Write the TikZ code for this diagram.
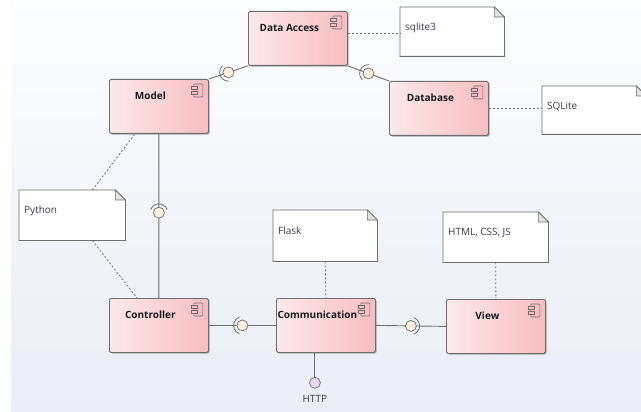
\documentclass[tikz,border=0pt]{standalone}
\usepackage{fontspec}
\setmainfont{Open Sans}
\usetikzlibrary{calc,shadows}
\definecolor{bgtop}{HTML}{FCFDFE}
\definecolor{bgbot}{HTML}{EAEDF6}
\definecolor{compL}{HTML}{FDE9EB}
\definecolor{compR}{HTML}{F7BEC1}
\definecolor{edge}{HTML}{6E6E6E}
\definecolor{ballc}{HTML}{FCF0DC}
\definecolor{httpc}{HTML}{E6D6F2}
\definecolor{txt}{HTML}{1A1A1A}
\definecolor{notetxt}{HTML}{3C3C4C}
\definecolor{foldc}{HTML}{E2E2E2}
\tikzset{
  x=1pt, y=-1pt,
  comp/.style={draw=edge, line width=0.8pt, rounded corners=1.5pt,
    left color=compL, right color=compR, minimum width=99pt, minimum height=54pt,
    inner sep=0pt,
    drop shadow={shadow xshift=1.2pt, shadow yshift=-1.2pt, opacity=0.55, fill=black!60}},
  ctitle/.style={font=\fontsize{10}{12}\selectfont\bfseries, text=txt, inner sep=0pt},
  icon/.style={draw=edge, line width=0.6pt, fill=compR},
  notebg/.style={inner sep=0pt, draw=none},
  noteline/.style={draw=edge, line width=0.8pt, fill=white},
  foldst/.style={draw=edge, line width=0.6pt, fill=foldc},
  notetext/.style={font=\fontsize{10}{12}\selectfont, text=notetxt, inner sep=0pt, anchor=west},
  conn/.style={draw=edge, line width=0.9pt},
  dashlink/.style={draw=edge, line width=0.8pt, dash pattern=on 2pt off 2pt},
  ball/.style={circle, draw=edge, line width=0.7pt, fill=ballc, minimum size=11pt, inner sep=0pt},
  hball/.style={circle, draw=edge, line width=0.7pt, fill=httpc, minimum size=11pt, inner sep=0pt},
  sock/.style={draw=edge, line width=0.8pt},
}
\newcommand\compo[4]{%
  \node[comp, anchor=north west] (#1) at (#2,#3) {};
  \node[ctitle] (#1-t) at ($(#1.north)+(-8.5,17)$) {#4};
  \draw[icon, rounded corners=0.8pt] ($(#1.north east)+(-15,5)$) rectangle ($(#1.north east)+(-6,18)$);
  \draw[icon] ($(#1.north east)+(-18,7.5)$) rectangle ($(#1.north east)+(-12,10.5)$);
  \draw[icon] ($(#1.north east)+(-18,12.5)$) rectangle ($(#1.north east)+(-12,15.5)$);
}
\newcommand\notebox[6]{%
  \node[notebg, minimum width={(#4-#2)*1pt}, minimum height={(#5-#3)*1pt}, anchor=north west] (#1) at (#2,#3) {};
  \draw[noteline] (#1.north west) -- ($(#1.north east)+(-10,0)$) -- ($(#1.north east)+(0,10)$) -- (#1.south east) -- (#1.south west) -- cycle;
  \draw[foldst] ($(#1.north east)+(-10,0)$) -- ($(#1.north east)+(-10,10)$) -- ($(#1.north east)+(0,10)$) -- cycle;
  \node[notetext] (#1-t) at ($(#1.north west)+(5,20.5)$) {#6};
}
\newcommand\socket[2]{%
  \draw[sock] ($(#1)+({#2-70}:8.8)$) arc[start angle={#2-70}, end angle={#2+70}, radius=8.8];
}
\begin{document}
\begin{tikzpicture}
\clip (0,0) rectangle (641,412);
\fill[white] (0,0) rectangle (641,412);
\shade[top color=bgtop, bottom color=bgbot] (11,0) rectangle (641,412);

% components
\compo{da}{248}{11}{Data Access}
\compo{model}{109}{79}{Model}
\compo{db}{389}{81}{Database}
\compo{ctrl}{109}{298}{Controller}
\compo{comm}{276}{298}{Communication}
\compo{view}{446}{299}{View}

% notes
\notebox{sq}{400}{7}{504}{56}{sqlite3}
\notebox{sql}{542}{86}{646}{134}{SQLite}
\notebox{py}{19}{190}{125}{240}{Python}
\notebox{fl}{273}{210}{377}{261}{Flask}
\notebox{web}{443}{212}{548}{262}{HTML, CSS, JS}

% dashed note links
\coordinate (daR) at ($(da.north east)!0.415!(da.south east)$);
\draw[dashlink] (daR) -- (sq.west |- daR);
\draw[dashlink] (db.east) -- (sql.west |- db.east);
\draw[dashlink] ($(py.north west)!0.69!(py.north east)$) -- ($(model.south west)!0.26!(model.south east)$);
\draw[dashlink] ($(py.south west)!0.69!(py.south east)$) -- ($(ctrl.north west)!0.28!(ctrl.north east)$);
\draw[dashlink] (fl.south) -- (comm.north);
\draw[dashlink] (web.south) -- (view.north);

% interface connectors
\coordinate (b1) at ($(model.north east)!0.5!(da.south west)$);
\coordinate (b2) at ($(da.south east)!0.5!(db.north west)$);
\coordinate (b3) at ($(model.south)!0.48!(ctrl.north)$);
\coordinate (b4) at ($(ctrl.east)!0.5!(comm.west)$);
\coordinate (b5) at ($(comm.east)!0.5!(view.west)$);
\draw[conn] (model.north east) -- (b1) -- (da.south west);
\draw[conn] (da.south east) -- (b2) -- (db.north west);
\draw[conn] (model.south) -- (b3) -- (ctrl.north);
\draw[conn] (ctrl.east) -- (b4) -- (comm.west);
\draw[conn] (comm.east) -- (b5) -- (view.west);
\node[ball] (b1n) at (b1) {};
\node[ball] (b2n) at (b2) {};
\node[ball] (b3n) at (b3) {};
\node[ball] (b4n) at (b4) {};
\node[ball] (b5n) at (b5) {};
\socket{b1}{158}
\socket{b2}{204}
\socket{b3}{270}
\socket{b4}{180}
\socket{b5}{0}

% HTTP lollipop
\coordinate (hb) at ($(comm.south)+(-11,30)$);
\draw[conn] (hb |- comm.south) -- (hb);
\node[hball] (http) at (hb) {};
\node[font=\fontsize{10}{12}\selectfont, text=notetxt, inner sep=0pt] (httpl) at ($(hb)+(0,16)$) {HTTP};
\end{tikzpicture}
\end{document}
